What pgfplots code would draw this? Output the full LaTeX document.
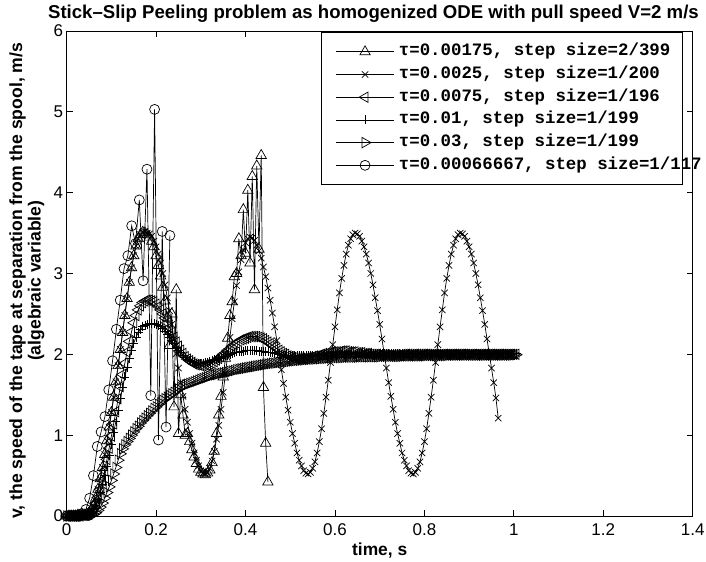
\documentclass[border=0pt]{standalone}
\usepackage{fontspec}
\setmainfont{Liberation Sans}
\newfontfamily\legfont{Liberation Mono}
\usepackage{pgfplots}
\pgfplotsset{compat=1.18}
\pgfplotsset{ser/.style={black, line width=0.7pt, mark size=6pt}}
\newcommand{\legtxt}[1]{\makebox[280pt][l]{#1}}
\begin{document}
\begin{tikzpicture}
\begin{axis}[
    width=626pt, height=485pt, scale only axis,
    xmin=0, xmax=1.4, ymin=0, ymax=6,
    xtick={0,0.2,0.4,0.6,0.8,1,1.2,1.4},
    ytick={0,1,2,3,4,5,6},
    tick align=inside,
    major tick length=6pt,
    axis line style={line width=0.7pt},
    tick style={black, line width=0.7pt},
    /pgf/number format/assume math mode=true,
    tick label style={font=\fontsize{17}{19}\selectfont},
    xticklabel style={anchor=base, yshift=-20pt},
    title={Stick–Slip Peeling problem as homogenized ODE with pull speed V=2 m/s},
    title style={font=\bfseries\fontsize{18.6}{21}\selectfont, anchor=base, at={(axis description cs:0.49,1)}, yshift=6pt},
    xlabel={time, s},
    xlabel style={font=\bfseries\fontsize{17.4}{19}\selectfont, anchor=base, at={(axis description cs:0.5,0)}, yshift=-40pt},
    ylabel={v, the speed of the tape at separation from the spool, m/s\\(algebraic variable)},
    ylabel style={font=\bfseries\fontsize{17.6}{18.5}\selectfont, align=center, at={(axis description cs:-0.03,0.485)}, anchor=south},
    legend style={at={(axis description cs:0.406,0.998)}, anchor=north west, draw=black, line width=0.7pt, fill=white,
        font=\legfont\bfseries\fontsize{17.4}{18}\selectfont, inner xsep=2pt, inner ysep=10pt,
        row sep=3.7pt, column sep=3pt, nodes={inner sep=1.5pt, text height=12pt, text depth=4pt}},
    legend cell align=left,
    legend image code/.code={\path (0pt,0pt); \draw[mark repeat=2,mark phase=2,#1] plot coordinates {(12.5pt,0pt) (41.5pt,0pt) (70.5pt,0pt)};},
]
% tau=0.00175
\addplot[ser, mark=triangle, mark options={solid}] coordinates {
(0,0) (0.005,0) (0.01,0) (0.015,0) (0.02,0) (0.025,0.01) (0.03,0.01) (0.035,0.01) (0.04,0.01) (0.045,0.02)
(0.05,0.03) (0.055,0.07) (0.06,0.13) (0.065,0.22) (0.07,0.33) (0.075,0.46) (0.08,0.60) (0.085,0.76) (0.09,0.93) (0.095,1.10)
(0.1,1.28) (0.105,1.47) (0.11,1.66) (0.115,1.86) (0.12,2.06) (0.125,2.27) (0.13,2.48) (0.135,2.69) (0.14,2.89) (0.145,3.07)
(0.15,3.22) (0.155,3.34) (0.16,3.43) (0.165,3.48) (0.17,3.51) (0.175,3.50) (0.18,3.48) (0.185,3.45) (0.19,3.40) (0.195,3.33)
(0.2,3.22) (0.205,3.10) (0.21,2.97) (0.215,2.83) (0.22,2.66) (0.225,2.45) (0.23,2.11) (0.235,2.50) (0.24,1.35) (0.245,2.80)
(0.25,1.02) (0.255,1.50) (0.26,1.25) (0.265,1.00) (0.27,1.02) (0.275,0.92) (0.28,0.82) (0.285,0.73) (0.29,0.65) (0.295,0.58)
(0.3,0.54) (0.305,0.52) (0.31,0.51) (0.315,0.53) (0.32,0.57) (0.325,0.66) (0.33,0.80) (0.335,1.02) (0.34,1.25) (0.345,1.48)
(0.35,1.72) (0.355,1.95) (0.36,2.20) (0.365,2.48) (0.37,2.65) (0.375,2.96) (0.38,3.00) (0.385,3.43) (0.39,3.22) (0.395,3.79)
(0.4,3.25) (0.405,4.03) (0.41,3.13) (0.415,4.20) (0.42,2.80) (0.425,4.33) (0.43,3.30) (0.435,4.46) (0.44,1.59) (0.445,0.90)
(0.45,0.42)
};
\addlegendentry{\legtxt{τ=0.00175, step size=2/399}}
% tau=0.0025
\addplot[ser, mark=x, mark size=4.5pt, mark options={solid}] coordinates {
(0,0) (0.005,0) (0.01,0) (0.015,0) (0.02,0) (0.025,0.01) (0.03,0.01) (0.035,0.01) (0.04,0.01) (0.045,0.02)
(0.05,0.03) (0.055,0.07) (0.06,0.13) (0.065,0.22) (0.07,0.33) (0.075,0.46) (0.08,0.60) (0.085,0.76) (0.09,0.93) (0.095,1.10)
(0.1,1.28) (0.105,1.47) (0.11,1.66) (0.115,1.86) (0.12,2.06) (0.125,2.27) (0.13,2.48) (0.135,2.69) (0.14,2.89) (0.145,3.07)
(0.15,3.22) (0.155,3.34) (0.16,3.43) (0.165,3.48) (0.17,3.51) (0.175,3.52) (0.18,3.50) (0.185,3.49) (0.19,3.46) (0.195,3.40)
(0.2,3.33) (0.205,3.24) (0.21,3.13) (0.215,3.00) (0.22,2.86) (0.225,2.70) (0.23,2.54) (0.235,2.37) (0.24,2.19) (0.245,2.01)
(0.25,1.83) (0.255,1.65) (0.26,1.48) (0.265,1.32) (0.27,1.16) (0.275,1.02) (0.28,0.90) (0.285,0.78) (0.29,0.69) (0.295,0.62)
(0.3,0.56) (0.305,0.53) (0.31,0.52) (0.315,0.54) (0.32,0.59) (0.325,0.68) (0.33,0.80) (0.335,0.95) (0.34,1.12) (0.345,1.32)
(0.35,1.53) (0.355,1.76) (0.36,1.99) (0.365,2.21) (0.37,2.44) (0.375,2.65) (0.38,2.85) (0.385,3.02) (0.39,3.17) (0.395,3.29)
(0.4,3.38) (0.405,3.43) (0.41,3.45) (0.415,3.44) (0.42,3.41) (0.425,3.35) (0.43,3.28) (0.435,3.19) (0.44,3.08) (0.445,2.96)
(0.45,2.82) (0.455,2.67) (0.46,2.51) (0.465,2.34) (0.47,2.17) (0.475,1.99) (0.48,1.81) (0.485,1.64) (0.49,1.47) (0.495,1.31)
(0.5,1.16) (0.505,1.02) (0.51,0.90) (0.515,0.78) (0.52,0.69) (0.525,0.62) (0.53,0.56) (0.535,0.53) (0.54,0.52) (0.545,0.54)
(0.55,0.59) (0.555,0.67) (0.56,0.78) (0.565,0.92) (0.57,1.08) (0.575,1.27) (0.58,1.47) (0.585,1.68) (0.59,1.90) (0.595,2.12)
(0.6,2.34) (0.605,2.55) (0.61,2.76) (0.615,2.94) (0.62,3.10) (0.625,3.24) (0.63,3.35) (0.635,3.43) (0.64,3.48) (0.645,3.50)
(0.65,3.49) (0.655,3.46) (0.66,3.40) (0.665,3.33) (0.67,3.24) (0.675,3.13) (0.68,3.00) (0.685,2.86) (0.69,2.70) (0.695,2.54)
(0.7,2.37) (0.705,2.19) (0.71,2.01) (0.715,1.83) (0.72,1.65) (0.725,1.48) (0.73,1.32) (0.735,1.16) (0.74,1.02) (0.745,0.90)
(0.75,0.78) (0.755,0.69) (0.76,0.62) (0.765,0.56) (0.77,0.53) (0.775,0.52) (0.78,0.54) (0.785,0.59) (0.79,0.67) (0.795,0.78)
(0.8,0.92) (0.805,1.08) (0.81,1.27) (0.815,1.47) (0.82,1.68) (0.825,1.90) (0.83,2.12) (0.835,2.34) (0.84,2.55) (0.845,2.76)
(0.85,2.94) (0.855,3.10) (0.86,3.24) (0.865,3.35) (0.87,3.43) (0.875,3.48) (0.88,3.50) (0.885,3.49) (0.89,3.46) (0.895,3.40)
(0.9,3.33) (0.905,3.24) (0.91,3.13) (0.915,3.00) (0.92,2.86) (0.925,2.70) (0.93,2.54) (0.935,2.37) (0.94,2.19) (0.945,2.01)
(0.95,1.83) (0.955,1.65) (0.96,1.46) (0.965,1.21)
};
\addlegendentry{\legtxt{τ=0.0025, step size=1/200}}
% tau=0.0075
\addplot[ser, mark=triangle, mark options={solid, rotate=90}] coordinates {
(0,0) (0.005,0) (0.01,0) (0.015,0) (0.02,0) (0.025,0) (0.03,0) (0.035,0.01) (0.04,0.01) (0.045,0.01)
(0.05,0.02) (0.055,0.05) (0.06,0.09) (0.065,0.15) (0.07,0.23) (0.075,0.33) (0.08,0.44) (0.085,0.56) (0.09,0.70) (0.095,0.84)
(0.1,0.99) (0.105,1.14) (0.11,1.29) (0.115,1.45) (0.12,1.60) (0.125,1.75) (0.13,1.89) (0.135,2.03) (0.14,2.16) (0.145,2.28)
(0.15,2.39) (0.155,2.48) (0.16,2.55) (0.165,2.60) (0.17,2.64) (0.175,2.66) (0.18,2.67) (0.185,2.67) (0.19,2.66) (0.195,2.65)
(0.2,2.62) (0.205,2.59) (0.21,2.55) (0.215,2.50) (0.22,2.45) (0.225,2.39) (0.23,2.33) (0.235,2.27) (0.24,2.21) (0.245,2.15)
(0.25,2.10) (0.255,2.05) (0.26,2.01) (0.265,1.97) (0.27,1.94) (0.275,1.92) (0.28,1.90) (0.285,1.88) (0.29,1.87) (0.295,1.87)
(0.3,1.86) (0.305,1.86) (0.31,1.87) (0.315,1.87) (0.32,1.88) (0.325,1.89) (0.33,1.91) (0.335,1.93) (0.34,1.95) (0.345,1.97)
(0.35,2.00) (0.355,2.02) (0.36,2.05) (0.365,2.07) (0.37,2.10) (0.375,2.12) (0.38,2.14) (0.385,2.16) (0.39,2.18) (0.395,2.19)
(0.4,2.20) (0.405,2.21) (0.41,2.22) (0.415,2.22) (0.42,2.22) (0.425,2.22) (0.43,2.21) (0.435,2.20) (0.44,2.19) (0.445,2.17)
(0.45,2.15) (0.455,2.13) (0.46,2.11) (0.465,2.09) (0.47,2.07) (0.475,2.05) (0.48,2.03) (0.485,2.01) (0.49,2.00) (0.495,1.98)
(0.5,1.97) (0.505,1.96) (0.51,1.96) (0.515,1.95) (0.52,1.95) (0.525,1.95) (0.53,1.95) (0.535,1.95) (0.54,1.96) (0.545,1.96)
(0.55,1.97) (0.555,1.98) (0.56,1.98) (0.565,1.99) (0.57,2.00) (0.575,2.01) (0.58,2.01) (0.585,2.02) (0.59,2.02) (0.595,2.03)
(0.6,2.03) (0.605,2.03) (0.61,2.03) (0.615,2.04) (0.62,2.04) (0.625,2.04) (0.63,2.03) (0.635,2.03) (0.64,2.03) (0.645,2.03)
(0.65,2.02) (0.655,2.02) (0.66,2.02) (0.665,2.01) (0.67,2.01) (0.675,2.01) (0.68,2.00) (0.685,2.00) (0.69,2.00) (0.695,2.00)
(0.7,1.99) (0.705,1.99) (0.71,1.99) (0.715,1.99) (0.72,1.99) (0.725,1.99) (0.73,1.99) (0.735,1.99) (0.74,1.99) (0.745,1.99)
(0.75,2.00) (0.755,2.00) (0.76,2.00) (0.765,2.00) (0.77,2.00) (0.775,2.00) (0.78,2.00) (0.785,2.00) (0.79,2.00) (0.795,2.00)
(0.8,2.00) (0.805,2.00) (0.81,2.00) (0.815,2.00) (0.82,2.00) (0.825,2.00) (0.83,2.00) (0.835,2.00) (0.84,2.00) (0.845,2.00)
(0.85,2.00) (0.855,2.00) (0.86,2.00) (0.865,2.00) (0.87,2.00) (0.875,2.00) (0.88,2.00) (0.885,2.00) (0.89,2.00) (0.895,2.00)
(0.9,2.00) (0.905,2.00) (0.91,2.00) (0.915,2.00) (0.92,2.00) (0.925,2.00) (0.93,2.00) (0.935,2.00) (0.94,2.00) (0.945,2.00)
(0.95,2.00) (0.955,2.00) (0.96,2.00) (0.965,2.00) (0.97,2.00) (0.975,2.00) (0.98,2.00) (0.985,2.00) (0.99,2.00) (0.995,2.00)
(1,2.00) (1.005,2.00)
};
\addlegendentry{\legtxt{τ=0.0075, step size=1/196}}
% tau=0.01
\addplot[ser, mark=+, mark size=4.5pt, mark options={solid}] coordinates {
(0,0) (0.005,0) (0.01,0) (0.015,0) (0.02,0) (0.025,0) (0.03,0) (0.035,0.01) (0.04,0.01) (0.045,0.01)
(0.05,0.02) (0.055,0.04) (0.06,0.08) (0.065,0.13) (0.07,0.20) (0.075,0.29) (0.08,0.39) (0.085,0.50) (0.09,0.62) (0.095,0.75)
(0.1,0.89) (0.105,1.03) (0.11,1.17) (0.115,1.31) (0.12,1.45) (0.125,1.59) (0.13,1.72) (0.135,1.84) (0.14,1.95) (0.145,2.05)
(0.15,2.14) (0.155,2.21) (0.16,2.27) (0.165,2.31) (0.17,2.34) (0.175,2.36) (0.18,2.37) (0.185,2.38) (0.19,2.38) (0.195,2.38)
(0.2,2.37) (0.205,2.36) (0.21,2.34) (0.215,2.32) (0.22,2.29) (0.225,2.25) (0.23,2.21) (0.235,2.17) (0.24,2.13) (0.245,2.09)
(0.25,2.05) (0.255,2.02) (0.26,1.99) (0.265,1.96) (0.27,1.94) (0.275,1.92) (0.28,1.91) (0.285,1.90) (0.29,1.89) (0.295,1.89)
(0.3,1.89) (0.305,1.89) (0.31,1.90) (0.315,1.90) (0.32,1.91) (0.325,1.92) (0.33,1.93) (0.335,1.94) (0.34,1.95) (0.345,1.96)
(0.35,1.97) (0.355,1.98) (0.36,1.99) (0.365,2.00) (0.37,2.01) (0.375,2.02) (0.38,2.03) (0.385,2.03) (0.39,2.04) (0.395,2.04)
(0.4,2.05) (0.405,2.05) (0.41,2.05) (0.415,2.05) (0.42,2.05) (0.425,2.05) (0.43,2.04) (0.435,2.04) (0.44,2.04) (0.445,2.03)
(0.45,2.03) (0.455,2.02) (0.46,2.02) (0.465,2.01) (0.47,2.01) (0.475,2.00) (0.48,2.00) (0.485,1.99) (0.49,1.99) (0.495,1.99)
(0.5,1.98) (0.505,1.98) (0.51,1.98) (0.515,1.98) (0.52,1.98) (0.525,1.98) (0.53,1.98) (0.535,1.98) (0.54,1.98) (0.545,1.98)
(0.55,1.98) (0.555,1.99) (0.56,1.99) (0.565,1.99) (0.57,1.99) (0.575,1.99) (0.58,1.99) (0.585,1.99) (0.59,1.99) (0.595,1.99)
(0.6,2.00) (0.605,2.00) (0.61,2.00) (0.615,2.00) (0.62,2.00) (0.625,2.00) (0.63,2.00) (0.635,2.00) (0.64,2.00) (0.645,2.00)
(0.65,2.01) (0.655,2.01) (0.66,2.01) (0.665,2.01) (0.67,2.01) (0.675,2.01) (0.68,2.01) (0.685,2.01) (0.69,2.01) (0.695,2.01)
(0.7,2.01) (0.705,2.01) (0.71,2.01) (0.715,2.01) (0.72,2.01) (0.725,2.01) (0.73,2.01) (0.735,2.01) (0.74,2.01) (0.745,2.01)
(0.75,2.01) (0.755,2.01) (0.76,2.01) (0.765,2.01) (0.77,2.01) (0.775,2.01) (0.78,2.01) (0.785,2.01) (0.79,2.01) (0.795,2.01)
(0.8,2.01) (0.805,2.01) (0.81,2.01) (0.815,2.01) (0.82,2.01) (0.825,2.01) (0.83,2.01) (0.835,2.01) (0.84,2.01) (0.845,2.01)
(0.85,2.01) (0.855,2.01) (0.86,2.01) (0.865,2.01) (0.87,2.01) (0.875,2.01) (0.88,2.01) (0.885,2.01) (0.89,2.01) (0.895,2.01)
(0.9,2.01) (0.905,2.01) (0.91,2.01) (0.915,2.01) (0.92,2.01) (0.925,2.01) (0.93,2.01) (0.935,2.01) (0.94,2.01) (0.945,2.01)
(0.95,2.01) (0.955,2.01) (0.96,2.01) (0.965,2.01) (0.97,2.01) (0.975,2.01) (0.98,2.01) (0.985,2.01) (0.99,2.01) (0.995,2.01)
(1,2.01) (1.005,2.01)
};
\addlegendentry{\legtxt{τ=0.01, step size=1/199}}
% tau=0.03
\addplot[ser, mark=triangle, mark options={solid, rotate=-90}] coordinates {
(0,0) (0.005,0) (0.01,0) (0.015,0) (0.02,0) (0.025,0) (0.03,0) (0.035,0) (0.04,0.01) (0.045,0.01)
(0.05,0.01) (0.055,0.01) (0.06,0.02) (0.065,0.04) (0.07,0.07) (0.075,0.11) (0.08,0.16) (0.085,0.22) (0.09,0.29) (0.095,0.36)
(0.1,0.44) (0.105,0.52) (0.11,0.60) (0.115,0.69) (0.12,0.77) (0.125,0.83) (0.13,0.88) (0.135,0.92) (0.14,0.96) (0.145,1.00)
(0.15,1.04) (0.155,1.08) (0.16,1.11) (0.165,1.15) (0.17,1.18) (0.175,1.21) (0.18,1.24) (0.185,1.27) (0.19,1.30) (0.195,1.33)
(0.2,1.35) (0.205,1.38) (0.21,1.40) (0.215,1.43) (0.22,1.45) (0.225,1.47) (0.23,1.49) (0.235,1.51) (0.24,1.53) (0.245,1.55)
(0.25,1.57) (0.255,1.59) (0.26,1.61) (0.265,1.62) (0.27,1.63) (0.275,1.64) (0.28,1.65) (0.285,1.66) (0.29,1.67) (0.295,1.68)
(0.3,1.69) (0.305,1.70) (0.31,1.71) (0.315,1.72) (0.32,1.73) (0.325,1.74) (0.33,1.745) (0.335,1.75) (0.34,1.76) (0.345,1.765)
(0.35,1.77) (0.355,1.775) (0.36,1.78) (0.365,1.79) (0.37,1.795) (0.375,1.80) (0.38,1.81) (0.385,1.815) (0.39,1.82) (0.395,1.825)
(0.4,1.83) (0.405,1.835) (0.41,1.84) (0.415,1.845) (0.42,1.85) (0.425,1.855) (0.43,1.86) (0.435,1.865) (0.44,1.87) (0.445,1.875)
(0.45,1.88) (0.455,1.885) (0.46,1.89) (0.465,1.89) (0.47,1.895) (0.475,1.90) (0.48,1.90) (0.485,1.905) (0.49,1.91) (0.495,1.91)
(0.5,1.915) (0.505,1.92) (0.51,1.92) (0.515,1.925) (0.52,1.925) (0.525,1.93) (0.53,1.93) (0.535,1.935) (0.54,1.935) (0.545,1.94)
(0.55,1.94) (0.555,1.94) (0.56,1.945) (0.565,1.945) (0.57,1.95) (0.575,1.95) (0.58,1.95) (0.585,1.955) (0.59,1.955) (0.595,1.96)
(0.6,1.96) (0.605,1.96) (0.61,1.96) (0.615,1.96) (0.62,1.96) (0.625,1.965) (0.63,1.965) (0.635,1.965) (0.64,1.965) (0.645,1.965)
(0.65,1.965) (0.655,1.97) (0.66,1.97) (0.665,1.97) (0.67,1.97) (0.675,1.97) (0.68,1.97) (0.685,1.97) (0.69,1.97) (0.695,1.97)
(0.7,1.97) (0.705,1.975) (0.71,1.975) (0.715,1.975) (0.72,1.975) (0.725,1.975) (0.73,1.975) (0.735,1.975) (0.74,1.975) (0.745,1.975)
(0.75,1.975) (0.755,1.98) (0.76,1.98) (0.765,1.98) (0.77,1.98) (0.775,1.98) (0.78,1.98) (0.785,1.98) (0.79,1.98) (0.795,1.98)
(0.8,1.98) (0.805,1.985) (0.81,1.985) (0.815,1.985) (0.82,1.985) (0.825,1.985) (0.83,1.985) (0.835,1.985) (0.84,1.985) (0.845,1.985)
(0.85,1.985) (0.855,1.99) (0.86,1.99) (0.865,1.99) (0.87,1.99) (0.875,1.99) (0.88,1.99) (0.885,1.99) (0.89,1.99) (0.895,1.99)
(0.9,1.99) (0.905,1.99) (0.91,1.99) (0.915,1.99) (0.92,1.99) (0.925,1.99) (0.93,1.99) (0.935,1.99) (0.94,1.99) (0.945,1.99)
(0.95,1.99) (0.955,1.99) (0.96,1.99) (0.965,1.99) (0.97,1.99) (0.975,1.99) (0.98,1.99) (0.985,1.99) (0.99,1.99) (0.995,1.99)
(1,1.995) (1.005,1.995)
};
\addlegendentry{\legtxt{τ=0.03, step size=1/199}}
% tau=0.00066667
\addplot[ser, mark=o, mark size=5pt, mark options={solid}] coordinates {
(0,0) (0.00855,0) (0.01709,0) (0.02564,0.01) (0.03419,0.03) (0.04274,0.08) (0.05128,0.22) (0.05983,0.50)
(0.06838,0.86) (0.07692,1.04) (0.08547,1.23) (0.09402,1.56) (0.10256,1.92) (0.11111,2.31) (0.11966,2.67) (0.12821,3.06)
(0.13675,3.22) (0.14530,3.59) (0.15385,3.37) (0.16239,3.91) (0.17094,2.91) (0.17949,4.29) (0.18803,1.49) (0.19658,5.03)
(0.20513,0.94) (0.21368,3.52) (0.22222,1.10) (0.23077,3.47)
};
\addlegendentry{\legtxt{τ=0.00066667, step size=1/117}}
\end{axis}
\pgfresetboundingbox
\path[use as bounding box] ([xshift=-66.7pt,yshift=-46pt]current axis.south west) rectangle ([xshift=13.3pt,yshift=31pt]current axis.north east);
\end{tikzpicture}
\end{document}
